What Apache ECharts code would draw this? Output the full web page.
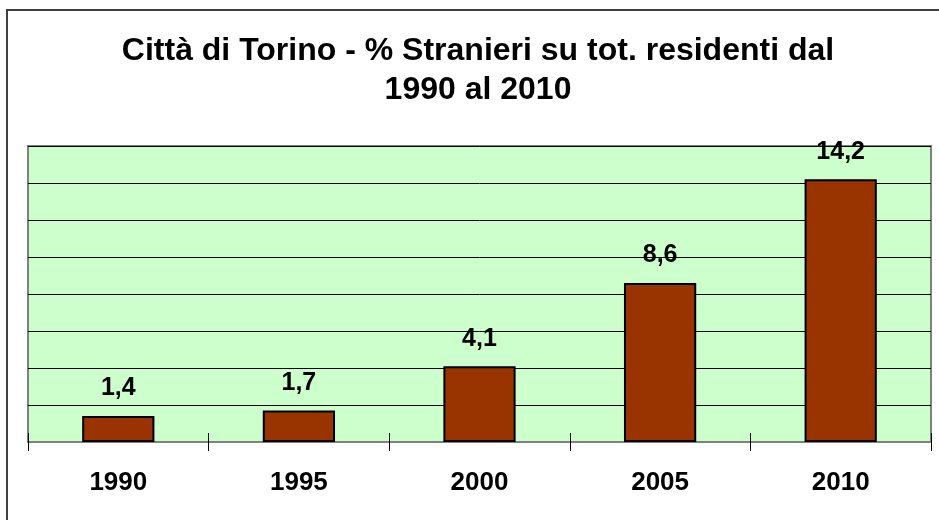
<!DOCTYPE html>
<html>
<head>
<meta charset="utf-8">
<script src="https://cdn.jsdelivr.net/npm/echarts@6/dist/echarts.min.js"></script>
<style>html,body{margin:0;padding:0;background:#fff;}#c{width:939px;height:520px;}</style>
</head>
<body>
<div id="c"></div>
<script>
const titleText = 'Città di Torino - % Stranieri su tot. residenti dal\n1990 al 2010';
const categories = ['1990', '1995', '2000', '2005', '2010'];
const values = [1.4, 1.7, 4.1, 8.6, 14.2];
const yMin = 0, yMax = 16, yStep = 2;

const FONT = '"Liberation Sans", Arial, sans-serif';
const chart = echarts.init(document.getElementById('c'), null, {renderer: 'canvas'});
chart.setOption({
  animation: false,
  backgroundColor: '#ffffff',
  graphic: [{
    type: 'rect', z: 0, silent: true,
    shape: {x: 7, y: 10, width: 960, height: 540},
    style: {fill: 'none', stroke: '#404040', lineWidth: 2}
  }],
  title: {
    text: titleText,
    left: 473, textAlign: 'center', top: 27,
    textStyle: {fontFamily: FONT, fontSize: 32, fontWeight: 'bold', color: '#000', lineHeight: 39}
  },
  grid: {
    left: 28, right: 8, top: 146, bottom: 78,
    show: true, backgroundColor: '#CCFFCC', borderColor: '#808080', borderWidth: 2
  },
  xAxis: [{
    type: 'category', data: categories,
    axisLine: {show: true, lineStyle: {color: '#808080', width: 2}},
    axisTick: {show: true, length: 9, lineStyle: {color: '#000', width: 1}},
    axisLabel: {fontFamily: FONT, fontSize: 26, fontWeight: 'bold', color: '#000', margin: 28},
    splitLine: {show: false}
  }, {
    type: 'category', data: categories, position: 'bottom',
    axisLine: {show: false},
    axisTick: {show: true, inside: true, length: 9, lineStyle: {color: '#000', width: 1}},
    axisLabel: {show: false},
    splitLine: {show: false}
  }],
  yAxis: {
    type: 'value', min: yMin, max: yMax, interval: yStep,
    axisLine: {show: false}, axisTick: {show: false}, axisLabel: {show: false},
    splitLine: {show: true, lineStyle: {color: '#000', width: 1}}
  },
  series: [{
    type: 'bar', data: values, xAxisIndex: 0, barWidth: '40%',
    itemStyle: {color: '#993300', borderColor: '#000', borderWidth: 2},
    label: {
      show: true, position: 'top', distance: 15,
      fontFamily: FONT, fontSize: 25, fontWeight: 'bold', color: '#000',
      formatter: p => String(p.value).replace('.', ',')
    }
  }]
});
</script>
</body>
</html>
